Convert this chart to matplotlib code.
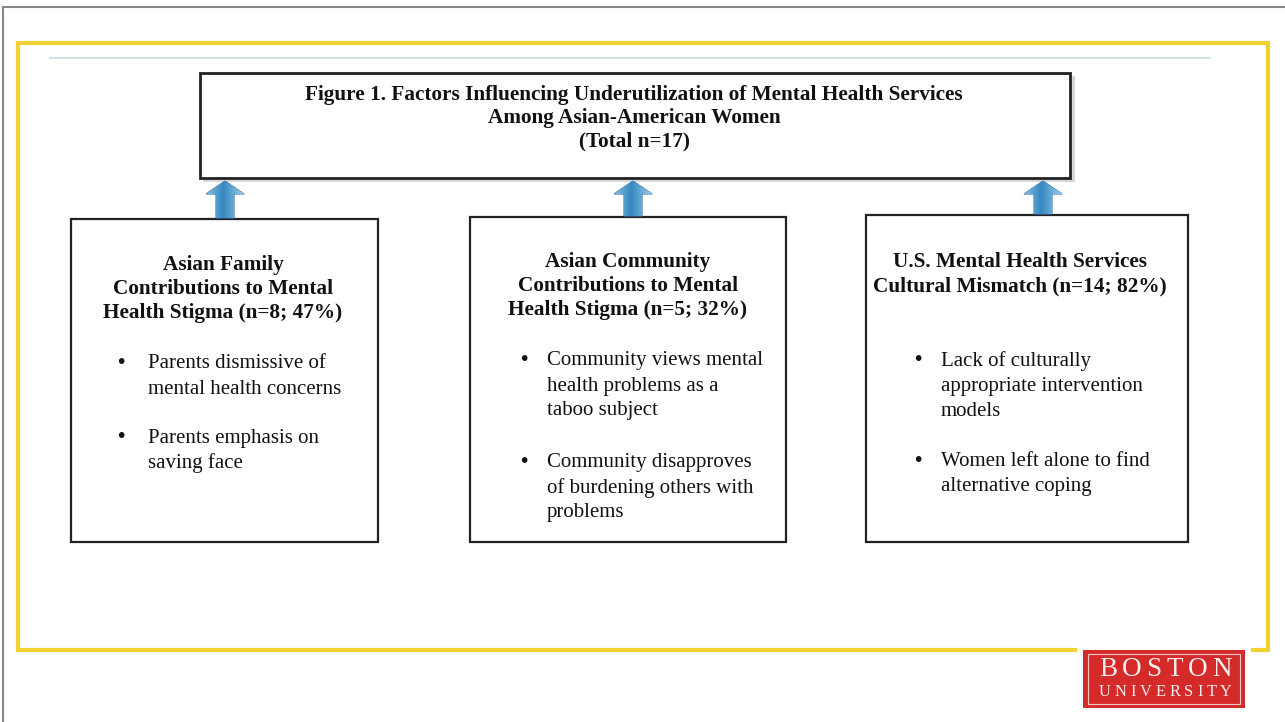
import matplotlib.pyplot as plt
import numpy as np
from matplotlib.patches import Rectangle, Polygon

# text content
title_lines = ["Figure 1. Factors Influencing Underutilization of Mental Health Services",
               "Among Asian-American Women",
               "(Total n=17)"]
box_titles = [["Asian Family", "Contributions to Mental", "Health Stigma (n=8; 47%)"],
              ["Asian Community", "Contributions to Mental", "Health Stigma (n=5; 32%)"],
              ["U.S. Mental Health Services", "Cultural Mismatch (n=14; 82%)"]]
box_bullets = [[["Parents dismissive of", "mental health concerns"],
                ["Parents emphasis on", "saving face"]],
               [["Community views mental", "health problems as a", "taboo subject"],
                ["Community disapproves", "of burdening others with", "problems"]],
               [["Lack of culturally", "appropriate intervention", "models"],
                ["Women left alone to find", "alternative coping"]]]
logo_lines = ["BOSTON", "UNIVERSITY"]

W, H = 1285, 722
fig = plt.figure(figsize=(W / 100, H / 100), dpi=100)
ax = fig.add_axes([0, 0, 1, 1])
ax.set_xlim(0, W)
ax.set_ylim(H, 0)
ax.axis("off")

serif = ["Liberation Serif", "DejaVu Serif"]
fs_bold = 15.3
fs_body = 15

# slide frame
ax.plot([3, W], [7, 7], color="#888888", lw=1.5)
ax.plot([3, 3], [7, H], color="#888888", lw=1.5)

# yellow border with gap for logo
yc = "#f0d230"
ax.plot([1075, 18, 18, 1268, 1268, 1253], [650, 650, 43, 43, 650, 650], color=yc, lw=3, solid_joinstyle="miter")
ax.plot([50, 1210], [58, 58], color="#c8dce4", lw=1.2)

# title box with shadow
ax.add_patch(Rectangle((203, 76), 872, 106, facecolor="#bbbbbb", edgecolor="none", alpha=0.6))
ax.add_patch(Rectangle((200, 73), 870, 105, facecolor="white", edgecolor="#222222", lw=2))
for i, t in enumerate(title_lines):
    ax.text(634, 95 + i * 23, t, ha="center", va="center", fontsize=fs_bold, fontweight="bold", family=serif, color="#111111")

# boxes
boxes = [(71, 219, 307, 323), (470, 217, 316, 325), (866, 215, 322, 327)]
centers = [223, 628, 1020]
bullet_x = [121, 524, 918]
text_x = [148, 547, 941]
title_y0 = [265, 262, 262]
bullet_y0 = [[364, 438], [361, 463], [361, 462]]
arrow_x = [225, 633, 1043]


def draw_arrow(cx, top, bot):
    hw, sw, hh = 19, 9, 13
    pts = [(cx, top), (cx + hw, top + hh), (cx + sw, top + hh), (cx + sw, bot),
           (cx - sw, bot), (cx - sw, top + hh), (cx - hw, top + hh)]
    poly = Polygon(pts, closed=True, facecolor="none", edgecolor="#3a6fb5", lw=0.8)
    ax.add_patch(poly)
    grad = np.linspace(0, 1, 64).reshape(1, -1)
    grad = np.abs(grad - 0.45)
    im = ax.imshow(grad, extent=(cx - hw, cx + hw, bot, top), cmap="Blues_r",
                   vmin=-0.6, vmax=1.2, aspect="auto", zorder=2)
    im.set_clip_path(poly)


for k, (x, y, w, h) in enumerate(boxes):
    ax.add_patch(Rectangle((x, y), w, h, facecolor="white", edgecolor="#222222", lw=1.6))
    for i, t in enumerate(box_titles[k]):
        ax.text(centers[k], title_y0[k] + i * 24, t, ha="center", va="center",
                fontsize=fs_bold, fontweight="bold", family=serif, color="#111111")
    for b, lines in enumerate(box_bullets[k]):
        y0 = bullet_y0[k][b]
        ax.text(bullet_x[k], y0 - 1, "\u2022", ha="center", va="center", fontsize=15, fontweight="bold", family=serif, color="#111111")
        for i, t in enumerate(lines):
            ax.text(text_x[k], y0 + i * 25, t, ha="left", va="center",
                    fontsize=fs_body, family=serif, color="#111111")
    draw_arrow(arrow_x[k], 181, y - 1)

ax.set_xlim(0, W)
ax.set_ylim(H, 0)

# logo with letter spacing
ax.add_patch(Rectangle((1083, 650), 162, 58, facecolor="#d42a2a", edgecolor="none"))
ax.add_patch(Rectangle((1088, 654), 152, 50, facecolor="none", edgecolor="#f3c6c6", lw=0.8))
renderer = fig.canvas.get_renderer()
for word, yy, fs in [(logo_lines[0], 670, 19.5), (logo_lines[1], 692, 11.8)]:
    arts = [ax.text(0, yy, ch, ha="left", va="center", fontsize=fs, family=serif, color="#f8eeee") for ch in word]
    widths = [a.get_window_extent(renderer).width for a in arts]
    left, right = 1099, 1232
    gap = (right - left - sum(widths)) / (len(word) - 1)
    cx = left
    for a, wd in zip(arts, widths):
        a.set_x(cx)
        cx += wd + gap

fig.savefig("out.png", dpi=100)
